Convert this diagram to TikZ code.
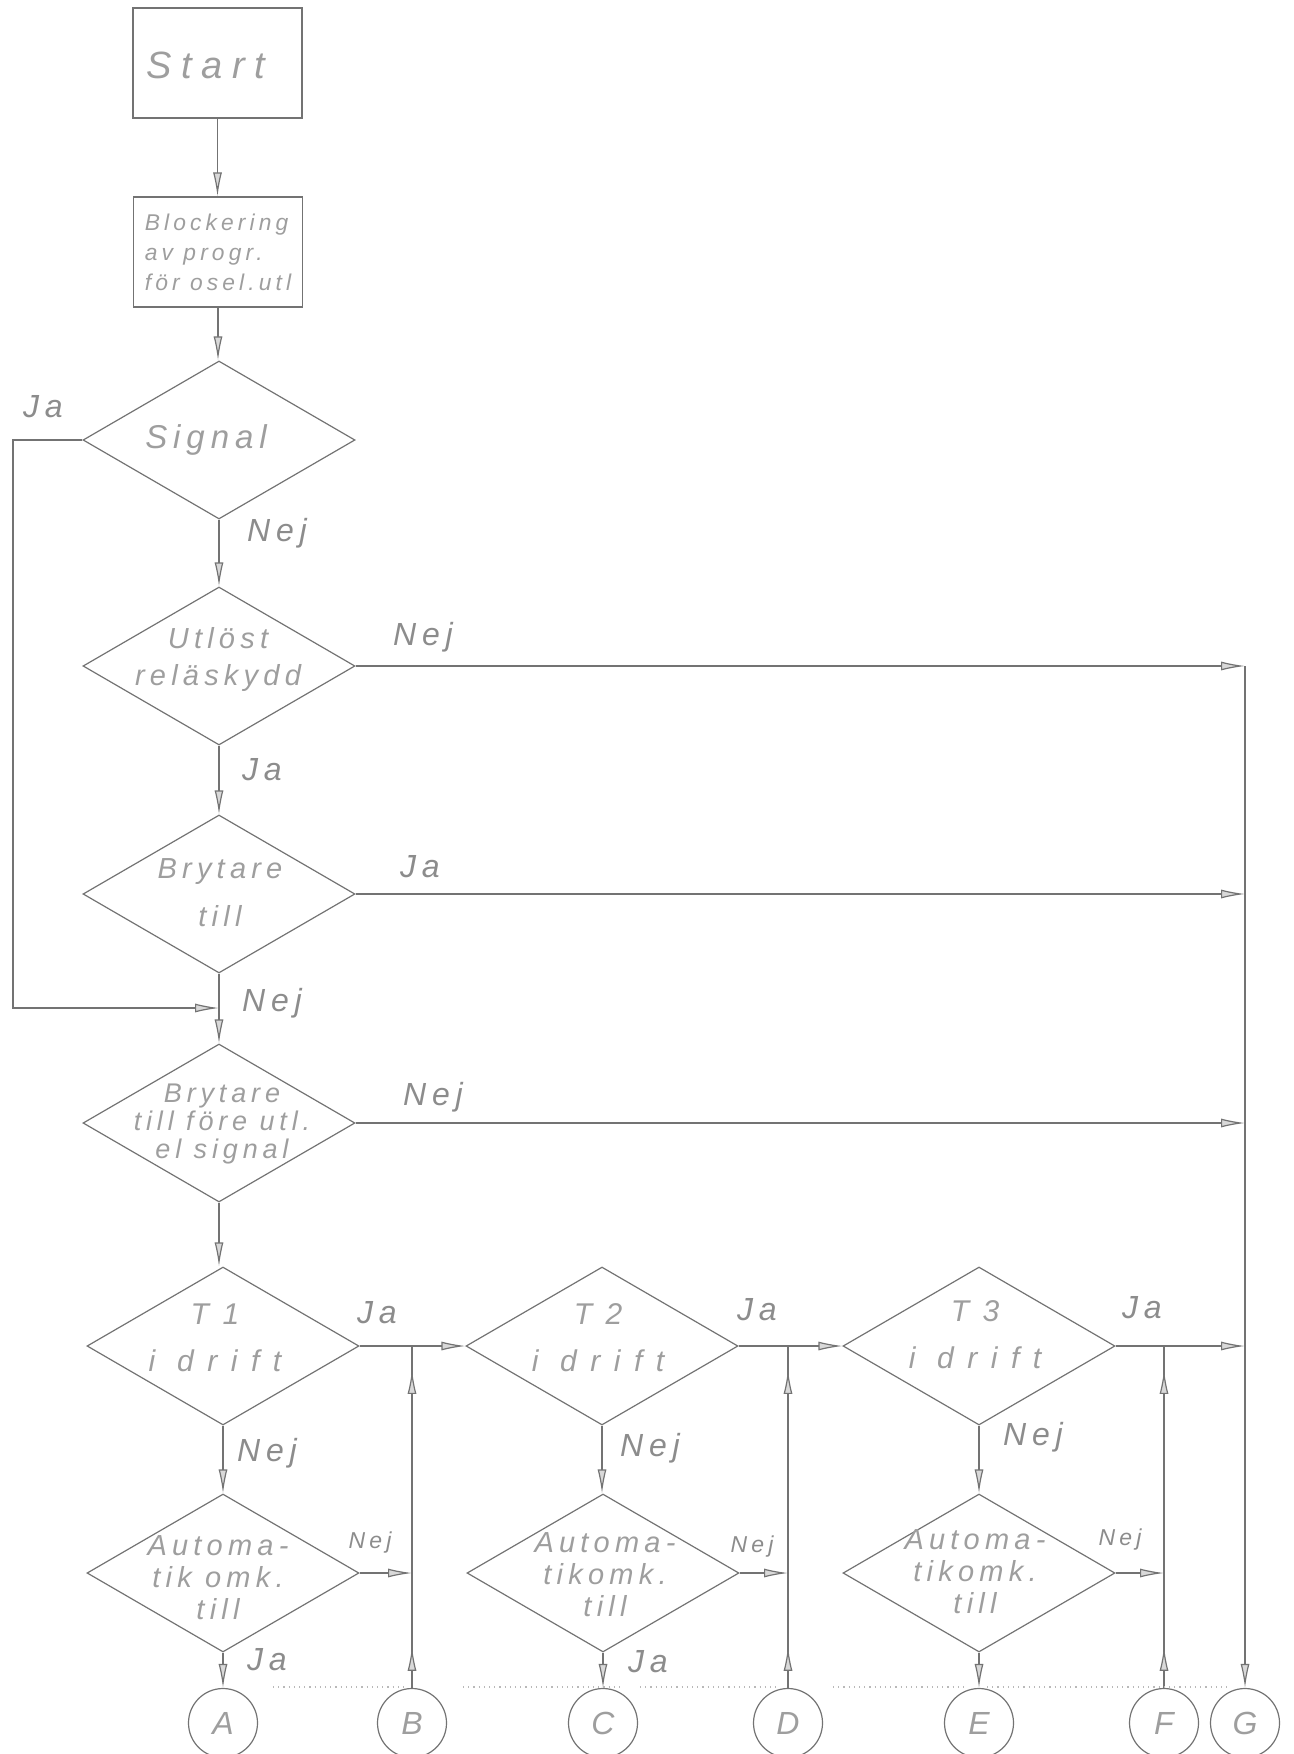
\documentclass[tikz,border=0pt]{standalone}
\usepackage{fontspec}
\newfontfamily\hand{Liberation Sans}[LetterSpace=18]
\usetikzlibrary{shapes.geometric,arrows.meta,decorations.markings}
\definecolor{linecol}{gray}{0.45}
\definecolor{txtcol}{gray}{0.62}
\definecolor{labcol}{gray}{0.55}
\tikzset{
  htip/.tip={Latex[length=12pt,width=4.5pt,fill=gray!30]},
  ln/.style={draw=linecol, line width=0.6pt},
  arr/.style={ln, -htip},
  box/.style={ln, rectangle, minimum width=84.5pt, minimum height=55pt, inner sep=0pt, text=txtcol},
  dec/.style={ln, diamond, shape aspect=1.72, minimum width=136pt, minimum height=79pt, inner sep=0pt},
  conn/.style={ln, circle, minimum size=34.5pt, inner sep=0pt, text=txtcol, font=\hand\itshape\fontsize{16}{16}\selectfont},
  dtext/.style={text=txtcol, align=center, inner sep=0pt, font=\hand\itshape\fontsize{14.5}{#1}\selectfont},
  dtext/.default=16,
  ttext/.style={text=txtcol, align=center, inner sep=0pt, font=\hand\itshape\fontsize{15}{23.5}\selectfont\addfontfeature{LetterSpace=45}},
  lab/.style={text=labcol, inner sep=0pt, font=\hand\itshape\fontsize{16}{16}\selectfont},
  slab/.style={lab, font=\hand\itshape\fontsize{11.5}{11.5}\selectfont},
  upmarks/.style={postaction={decorate}, decoration={markings, mark=at position 0.12 with {\arrow{htip}}, mark=at position 0.93 with {\arrow{htip}}}},
}
\begin{document}
\begin{tikzpicture}[x=0.5pt,y=-0.5pt]
\useasboundingbox (0,0) rectangle (1294,1754);

% boxes
\node[box] (start) at (217.5,63) {};
\node[text=txtcol, inner sep=0pt, font=\hand\itshape\fontsize{19}{19}\selectfont\addfontfeature{LetterSpace=25}] (startt) at (206,65) {Start};
\node[box, align=left, font=\hand\itshape\fontsize{11.4}{15}\selectfont] (block) at (218,252) {Blockering\\av progr.\\för osel.utl};

% decisions
\node[dec] (sig) at (219,440) {};
\node[text=txtcol, inner sep=0pt, font=\hand\itshape\fontsize{16.5}{16.5}\selectfont] (sigt) at (206,440) {Signal};
\node[dec] (utl) at (219,666) {};
\node[dtext=18.5] (utlt) at (218,659) {Utlöst\\reläskydd};
\node[dec] (bt) at (219,894) {};
\node[dtext=24] (btt) at (220,893) {Brytare\\till};
\node[dec] (bf) at (219,1123) {};
\node[dtext=14, font=\hand\itshape\fontsize{13.5}{14}\selectfont] (bft) at (222,1124) {Brytare\\till före utl.\\el signal};
\node[dec] (t1) at (223,1346) {};
\node[ttext] (t1t) at (215,1338) {T1\\i drift};
\node[dec] (t2) at (602,1346) {};
\node[ttext] (t2t) at (598,1338) {T2\\i drift};
\node[dec] (t3) at (979,1346) {};
\node[ttext] (t3t) at (975,1335) {T3\\i drift};
\node[dec] (a1) at (223,1573) {};
\node[dtext] (a1t) at (218,1578) {Automa-\\tik omk.\\till};
\node[dec] (a2) at (603,1573) {};
\node[dtext] (a2t) at (605,1575) {Automa-\\tikomk.\\till};
\node[dec] (a3) at (979,1573) {};
\node[dtext] (a3t) at (975,1572) {Automa-\\tikomk.\\till};

% connectors (circles)
\node[conn] (A) at (223,1723) {A};
\node[conn] (B) at (412,1723) {B};
\node[conn] (C) at (603,1723) {C};
\node[conn] (D) at (788,1723) {D};
\node[conn] (E) at (979,1723) {E};
\node[conn] (F) at (1164,1723) {F};
\node[conn] (G) at (1245,1723) {G};

% main column
\draw[arr] (start.south) -- (start.south |- block.north);
\draw[arr] (block.south) -- (block.south |- sig.north);
\draw[arr] (sig.south) -- (sig.south |- utl.north);
\draw[arr] (utl.south) -- (utl.south |- bt.north);
\draw[arr] (bt.south) -- (bt.south |- bf.north);
\draw[arr] (bf.south) -- (bf.south |- t1.north);

% Ja loop from Signal
\coordinate (lp) at (13,1008);
\draw[arr] (sig.west) -- (sig.west -| lp) -- (lp) -- (lp -| bt.south);

% lines to the G column
\coordinate (gx) at (1245,0);
\draw[arr] (utl.east) -- (utl.east -| gx);
\draw[arr] (bt.east) -- (bt.east -| gx);
\draw[arr] (bf.east) -- (bf.east -| gx);
\draw[arr] (t3.east) -- (t3.east -| gx);
\draw[arr] (utl.east -| gx) -- (G.north);

% T row
\draw[arr] (t1.east) -- (t2.west);
\draw[arr] (t2.east) -- (t3.west);
\draw[arr] (t1.south) -- (t1.south |- a1.north);
\draw[arr] (t2.south) -- (t2.south |- a2.north);
\draw[arr] (t3.south) -- (t3.south |- a3.north);

% Automatik row
\draw[arr] (a1.south) -- (a1.south |- A.north);
\draw[arr] (a2.south) -- (a2.south |- C.north);
\draw[arr] (a3.south) -- (a3.south |- E.north);
\draw[arr] (a1.east) -- (a1.east -| B.north);
\draw[arr] (a2.east) -- (a2.east -| D.north);
\draw[arr] (a3.east) -- (a3.east -| F.north);

% return lines
\draw[ln, upmarks] (B.north) -- (B.north |- t1.east);
\draw[ln, upmarks] (D.north) -- (D.north |- t2.east);
\draw[ln, upmarks] (F.north) -- (F.north |- t3.east);

% faint dotted guide line
\draw[gray!55, dotted, line width=0.6pt] (273,1687) -- (405,1687);
\draw[gray!55, dotted, line width=0.6pt] (463,1687) -- (620,1687);
\draw[gray!55, dotted, line width=0.6pt] (640,1687) -- (780,1687);
\draw[gray!55, dotted, line width=0.6pt] (833,1687) -- (965,1687);
\draw[gray!55, dotted, line width=0.6pt] (987,1687) -- (1230,1687);

% labels
\node[lab] (l1) at (43,407) {Ja};
\node[lab] (l2) at (277,533) {Nej};
\node[lab] (l3) at (423,637) {Nej};
\node[lab] (l4) at (262,770) {Ja};
\node[lab] (l5) at (420,867) {Ja};
\node[lab] (l6) at (272,1003) {Nej};
\node[lab] (l7) at (433,1097) {Nej};
\node[lab] (l8) at (377,1313) {Ja};
\node[lab] (l9) at (757,1310) {Ja};
\node[lab] (l10) at (1142,1308) {Ja};
\node[lab] (l11) at (267,1453) {Nej};
\node[lab] (l12) at (650,1448) {Nej};
\node[lab] (l13) at (1033,1437) {Nej};
\node[slab] (l14) at (370,1543) {Nej};
\node[slab] (l15) at (752,1547) {Nej};
\node[slab] (l16) at (1120,1540) {Nej};
\node[lab] (l17) at (267,1660) {Ja};
\node[lab] (l18) at (648,1662) {Ja};
\end{tikzpicture}
\end{document}
